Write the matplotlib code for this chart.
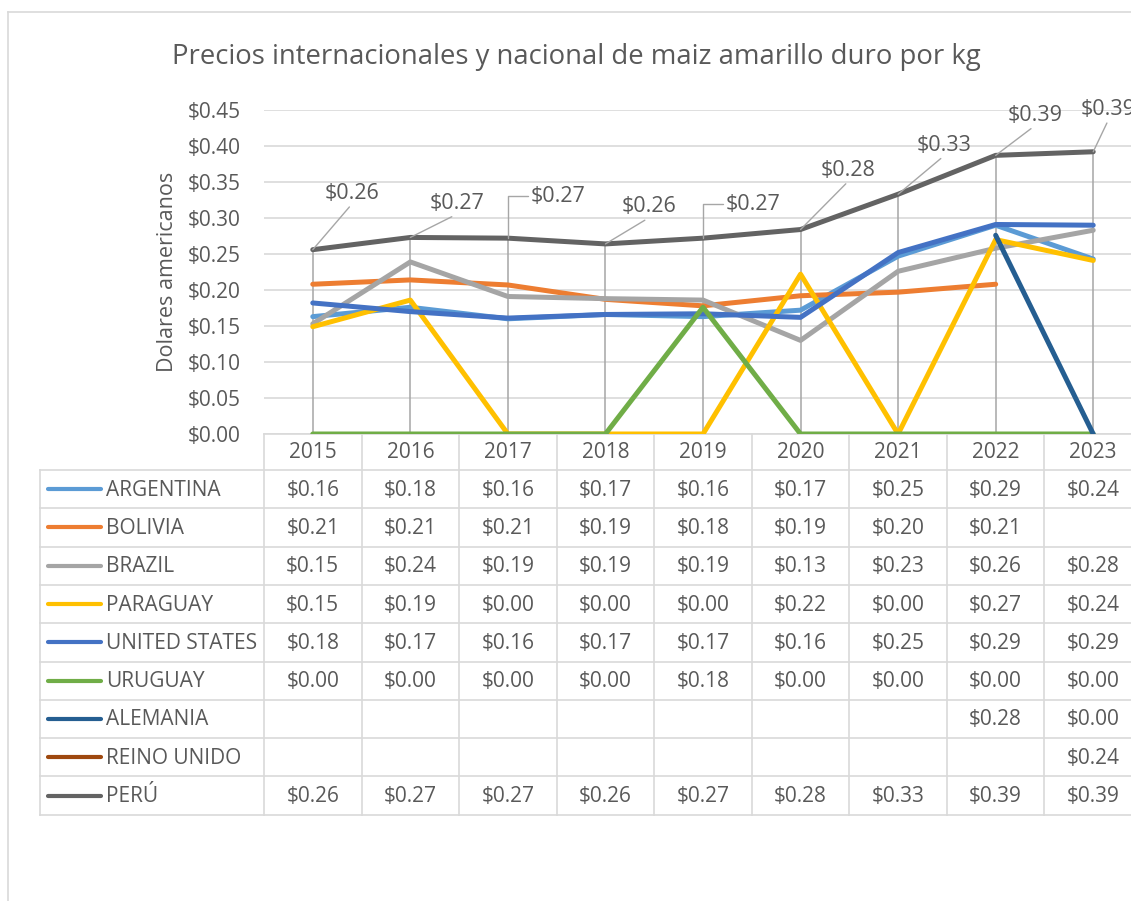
import matplotlib
matplotlib.use('Agg')
import matplotlib.pyplot as plt
from matplotlib.transforms import blended_transform_factory
from matplotlib.ticker import FuncFormatter, MultipleLocator

plt.rcParams['font.family'] = ['Open Sans', 'DejaVu Sans']

# ===== 数据 =====
years = ['2015', '2016', '2017', '2018', '2019', '2020', '2021', '2022', '2023']
countries = ['ARGENTINA', 'BOLIVIA', 'BRAZIL', 'PARAGUAY', 'UNITED STATES',
             'URUGUAY', 'ALEMANIA', 'REINO UNIDO', 'PERÚ']

argentina = [0.163, 0.176, 0.160, 0.166, 0.163, 0.172, 0.247, 0.290, 0.243]
bolivia = [0.208, 0.214, 0.207, 0.187, 0.178, 0.192, 0.197, 0.208, None]
brazil = [0.153, 0.239, 0.191, 0.188, 0.186, 0.130, 0.226, 0.258, 0.283]
paraguay = [0.149, 0.186, 0.0, 0.0, 0.0, 0.222, 0.0, 0.270, 0.241]
united_states = [0.182, 0.170, 0.161, 0.166, 0.167, 0.162, 0.252, 0.291, 0.290]
uruguay = [0.0, 0.0, 0.0, 0.0, 0.176, 0.0, 0.0, 0.0, 0.0]
alemania = [None, None, None, None, None, None, None, 0.276, 0.0]
reino_unido = [None, None, None, None, None, None, None, None, 0.240]
peru = [0.256, 0.273, 0.272, 0.264, 0.272, 0.284, 0.333, 0.387, 0.392]

series = [argentina, bolivia, brazil, paraguay, united_states,
          uruguay, alemania, reino_unido, peru]
colors = ['#5B9BD5', '#ED7D31', '#A5A5A5', '#FFC000', '#4472C4',
          '#70AD47', '#255E91', '#9E480E', '#636363']

# 标签偏移（像素）：(dx, dy, 折线?)
label_offsets = [(39, 56, False), (47, 34, False), (50, 42, True),
                 (44, 37, False), (50, 34, True), (48, 59, False),
                 (46, 49, False), (39, 40, False), (15, 42, False)]

W, H = 1131, 901
txt = '#595959'
grid_c = '#D9D9D9'

fig = plt.figure(figsize=(W / 100, H / 100), dpi=100)

# 像素坐标的背景层（边框 + 数据表）
tab = fig.add_axes([0, 0, 1, 1])
tab.set_xlim(0, W)
tab.set_ylim(H, 0)
tab.axis('off')
tab.plot([8, W], [12, 12], color=grid_c, lw=1.2)
tab.plot([8, 8], [12, H], color=grid_c, lw=1.2)
tab.text(576, 57, 'Precios internacionales y nacional de maiz amarillo duro por kg',
         ha='center', va='center', fontsize=19.8, color=txt)

# 绘图区
y0_px, y1_px = 434, 110
ax = fig.add_axes([264 / W, (H - y0_px) / H, (1142 - 264) / W, (y0_px - y1_px) / H])
ax.patch.set_alpha(0)
n = len(years)
x = list(range(n))
ax.set_xlim(-0.5, n - 0.5)
ax.set_ylim(0, 0.45)
ax.yaxis.set_major_locator(MultipleLocator(0.05))
ax.yaxis.set_major_formatter(FuncFormatter(lambda v, p: f'${v:.2f}'))
ax.grid(axis='y', color=grid_c, lw=1.2)
ax.set_axisbelow(True)
for s in ax.spines.values():
    s.set_visible(False)
ax.tick_params(axis='y', length=0, pad=17, labelsize=15, labelcolor=txt)
ax.set_xticks([])
ax.set_ylabel('Dolares americanos', fontsize=15.5, color=txt, labelpad=7)

# 垂直线（drop lines）
for i in x:
    top = max(s[i] for s in series if s[i] is not None)
    ax.plot([i, i], [0, top], color='#A6A6A6', lw=1.1, zorder=1)

for vals, c in zip(series, colors):
    xs = [i for i in x if vals[i] is not None]
    ys = [vals[i] for i in xs]
    ax.plot(xs, ys, color=c, lw=3.6, solid_capstyle='round',
            solid_joinstyle='round', zorder=2)

# 秘鲁数据标签
for i, (dx, dy, elbow) in zip(x, label_offsets):
    if elbow:
        ap = dict(arrowstyle='-', color='#A6A6A6', lw=1.0, shrinkA=0, shrinkB=0,
                  relpos=(0, 0.5), connectionstyle='angle,angleA=0,angleB=90,rad=0')
    else:
        ap = dict(arrowstyle='-', color='#A6A6A6', lw=1.0, shrinkA=0, shrinkB=0,
                  relpos=(0.5, 0))
    ax.annotate(f'${peru[i]:.2f}', xy=(i, peru[i]), xytext=(dx, dy),
                textcoords='offset pixels', ha='center', va='center',
                fontsize=15.5, color=txt, arrowprops=ap, annotation_clip=False,
                zorder=3)

# ===== 数据表 =====
tr = blended_transform_factory(ax.transData, tab.transData)
header_top, row_top, row_h = 434, 470, 38.3
bottom = row_top + row_h * len(countries)
# 横线
tab.plot([-0.5, n], [header_top, header_top], color=grid_c, lw=1.2, transform=tr)
for r in range(len(countries) + 1):
    yy = row_top + r * row_h
    tab.plot([40, W], [yy, yy], color=grid_c, lw=1.2)
# 竖线
tab.plot([40, 40], [row_top, bottom], color=grid_c, lw=1.2)
for i in range(n + 1):
    tab.plot([i - 0.5, i - 0.5], [header_top, bottom], color=grid_c, lw=1.2,
             transform=tr)
for i, yr in enumerate(years):
    tab.text(i, (header_top + row_top) / 2 + 1, yr, ha='center', va='center',
             fontsize=15, color=txt, transform=tr)
for r, (name, vals, c) in enumerate(zip(countries, series, colors)):
    yc = row_top + (r + 0.5) * row_h
    tab.plot([48, 101], [yc, yc], color=c, lw=3.0, solid_capstyle='round')
    tab.text(106, yc + 1, name, ha='left', va='center', fontsize=15, color=txt)
    for i, v in enumerate(vals):
        if v is not None:
            tab.text(i, yc + 1, f'${v:.2f}', ha='center', va='center',
                     fontsize=15, color=txt, transform=tr)

fig.savefig('out.png', dpi=100)
